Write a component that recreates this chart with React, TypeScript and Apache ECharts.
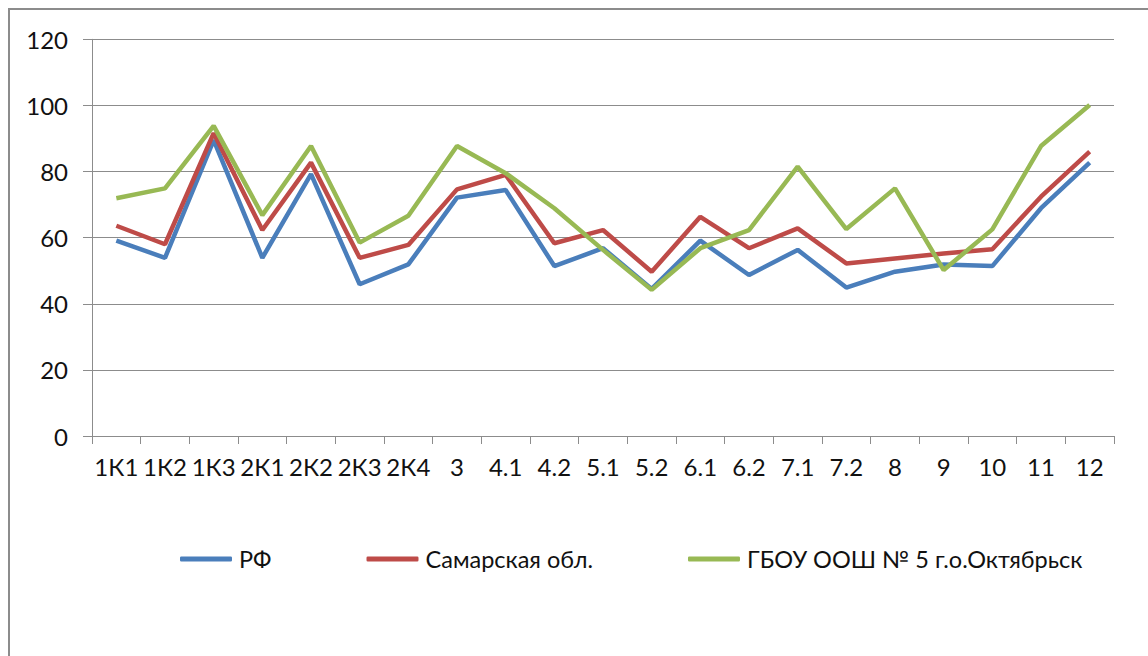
import React, { useEffect, useRef } from "react";
import * as echarts from "echarts";

const categories = ["1К1", "1К2", "1К3", "2К1", "2К2", "2К3", "2К4", "3", "4.1", "4.2", "5.1", "5.2", "6.1", "6.2", "7.1", "7.2", "8", "9", "10", "11", "12"];
const rf = [59.1, 53.9, 89.5, 53.9, 79.2, 45.9, 51.9, 72.1, 74.4, 51.4, 56.8, 44.5, 59.1, 48.7, 56.3, 44.9, 49.7, 51.9, 51.4, 68.9, 82.7];
const samara = [63.6, 58.0, 91.6, 62.3, 82.7, 53.9, 57.8, 74.6, 79.0, 58.3, 62.3, 49.7, 66.3, 56.8, 62.8, 52.2, 53.7, 55.2, 56.5, 72.4, 86.0];
const school = [71.9, 74.9, 93.8, 66.8, 87.7, 58.5, 66.6, 87.7, 79.5, 68.9, 56.3, 44.2, 56.8, 62.3, 81.5, 62.6, 74.9, 50.2, 62.5, 87.7, 100.1];
const seriesNames = ["РФ", "Самарская обл.", "ГБОУ ООШ № 5 г.о.Октябрьск"];
const colors = ["#4A7EBB", "#BE4B48", "#98B954"];

const FONT = "Lato";

export default function App() {
  const ref = useRef<HTMLDivElement>(null);
  useEffect(() => {
    if (!ref.current) return;
    const chart = echarts.init(ref.current, null, { renderer: "svg" });
    const data = [rf, samara, school];
    chart.setOption({
      animation: false,
      backgroundColor: "#ffffff",
      textStyle: { fontFamily: FONT },
      graphic: [
        {
          type: "rect",
          shape: { x: 9, y: 9, width: 1300, height: 800 },
          style: { fill: "none", stroke: "#8c8c8c", lineWidth: 2 },
          silent: true,
        },
      ],
      grid: { left: 92, top: 39.3, right: 34, bottom: 220, containLabel: false },
      legend: {
        left: 175,
        top: 542,
        itemWidth: 52,
        itemHeight: 5,
        itemGap: 95,
        icon: "roundRect",
        textStyle: { fontFamily: FONT, fontSize: 23.5, color: "#111", padding: [0, 0, 0, 2] },
        data: seriesNames,
      },
      xAxis: {
        type: "category",
        data: categories,
        boundaryGap: true,
        axisLine: { lineStyle: { color: "#8c8c8c", width: 1 } },
        axisTick: { show: true, length: 8, lineStyle: { color: "#8c8c8c" } },
        axisLabel: { fontFamily: FONT, fontSize: 24, color: "#111", margin: 18, interval: 0 },
      },
      yAxis: {
        type: "value",
        min: 0,
        max: 120,
        interval: 20,
        axisLine: { show: true, lineStyle: { color: "#8c8c8c", width: 1 } },
        axisTick: { show: true, length: 9, lineStyle: { color: "#8c8c8c" } },
        axisLabel: { fontFamily: FONT, fontSize: 24, color: "#111", margin: 24 },
        splitLine: { show: true, lineStyle: { color: "#8c8c8c", width: 1 } },
      },
      series: data.map((d, i) => ({
        name: seriesNames[i],
        type: "line",
        data: d,
        symbol: "none",
        color: colors[i],
        lineStyle: { width: 4.5, color: colors[i] },
        z: 2 + i,
      })),
    });
    return () => chart.dispose();
  }, []);
  return (
    <div
      ref={ref}
      style={{ position: "fixed", left: 0, top: 0, width: 1148, height: 656, background: "#fff" }}
    />
  );
}
